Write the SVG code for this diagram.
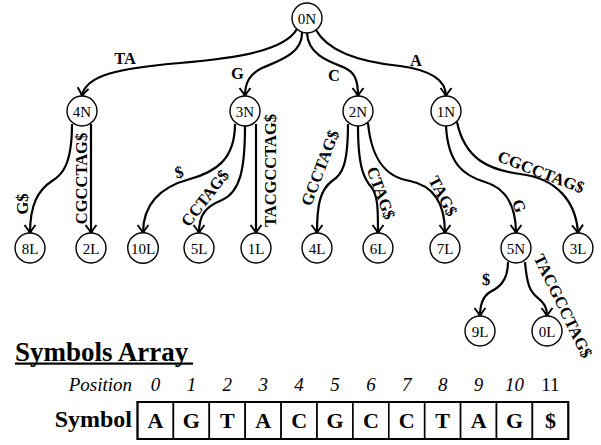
<svg xmlns="http://www.w3.org/2000/svg" width="601" height="445" viewBox="0 0 601 445">
<defs>
<marker id="ah" markerUnits="userSpaceOnUse" markerWidth="14" markerHeight="14" refX="0" refY="0" viewBox="-10 -7 12 14" orient="auto" overflow="visible">
<path d="M -8,-5.5 Q -3,-1.5 0,0 Q -3,1.5 -8,5.5" fill="none" stroke="#000" stroke-width="2"/>
</marker>
</defs>
<g id="connectors" fill="none" stroke="#000" stroke-width="2.2" marker-end="url(#ah)">
<path d="M 297,29 C 285,50 240,58 180,63 C 120,68 85,75 82,96"/>
<path d="M 302,32 C 303,55 275,62 262,68 C 250,74 245,82 245,96"/>
<path d="M 307,33 C 308,55 330,62 343,67 C 355,72 358,80 358,96"/>
<path d="M 316,30 C 330,55 370,63 400,66 C 430,70 446,80 446,96"/>
<path d="M 72,124 C 72,165 62,175 52,181 C 38,190 30,205 30,233"/>
<path d="M 91,124 L 91,233"/>
<path d="M 235,124 C 235,160 215,172 190,179 C 160,187 143,205 143,233"/>
<path d="M 245,126 C 245,170 240,192 222,200 C 205,207 199,215 199,233"/>
<path d="M 256,124 L 256,233"/>
<path d="M 348,124 C 348,165 342,175 332,181 C 320,190 317,205 317,233"/>
<path d="M 358,126 C 358,170 365,180 372,188 C 378,197 378,210 378,233"/>
<path d="M 368,123 C 372,165 390,178 410,181 C 435,186 445,205 445,233"/>
<path d="M 446,126 C 448,165 465,176 485,182 C 505,188 516,205 516,233"/>
<path d="M 457,122 C 465,160 490,170 520,174 C 555,178 576,200 578,233"/>
<path d="M 508,262 C 508,282 498,288 490,292 C 482,297 480,305 480,316"/>
<path d="M 525,262 C 527,285 530,292 538,298 C 545,304 547,308 547,316"/>
</g>
<g id="edge-labels" font-size="16.5" font-weight="bold" text-anchor="middle">
<text font-family="Liberation Serif" x="125" y="63.5">TA</text>
<text font-family="Liberation Serif" x="237.5" y="78.5">G</text>
<text font-family="Liberation Serif" x="334" y="80.5">C</text>
<text font-family="Liberation Serif" x="416" y="65.5">A</text>
<text font-family="Liberation Serif" transform="translate(22.5,204) rotate(-90)" y="5.5">G$</text>
<text font-family="Liberation Serif" transform="translate(81,178.5) rotate(-90)" y="5.5">CGCCTAG$</text>
<text font-family="Liberation Serif" transform="translate(179,172) rotate(-15)" y="5.5">$</text>
<text font-family="Liberation Serif" transform="translate(205,198) rotate(-52)" y="5.5">CCTAG$</text>
<text font-family="Liberation Serif" transform="translate(270.5,170.5) rotate(-90)" y="5.5">TACGCCTAG$</text>
<text font-family="Liberation Serif" transform="translate(320,168) rotate(-69)" y="5.5">GCCTAG$</text>
<text font-family="Liberation Serif" transform="translate(381,193) rotate(70)" y="5.5">CTAG$</text>
<text font-family="Liberation Serif" transform="translate(443,196) rotate(62)" y="5.5">TAG$</text>
<text font-family="Liberation Serif" transform="translate(519,206) rotate(70)" y="5.5">G</text>
<text font-family="Liberation Serif" transform="translate(541,172) rotate(21)" y="5.5">CGCCTAG$</text>
<text font-family="Liberation Serif" transform="translate(486,279)" y="5.5">$</text>
<text font-family="Liberation Serif" transform="translate(563,306) rotate(64)" y="5.5">TACGCCTAG$</text>
</g>
<g id="nodes" fill="#fff" stroke="#000" stroke-width="1.4" font-size="15" text-anchor="middle">
<g id="n0N"><circle cx="307" cy="18" r="15"/><text font-family="Liberation Serif" x="307" y="23.5" fill="#000" stroke="none">0N</text></g>
<g id="n4N"><circle cx="82" cy="111" r="15"/><text font-family="Liberation Serif" x="82" y="116.5" fill="#000" stroke="none">4N</text></g>
<g id="n3N"><circle cx="245" cy="111" r="15"/><text font-family="Liberation Serif" x="245" y="116.5" fill="#000" stroke="none">3N</text></g>
<g id="n2N"><circle cx="358" cy="111" r="15"/><text font-family="Liberation Serif" x="358" y="116.5" fill="#000" stroke="none">2N</text></g>
<g id="n1N"><circle cx="446" cy="111" r="15"/><text font-family="Liberation Serif" x="446" y="116.5" fill="#000" stroke="none">1N</text></g>
<g id="n8L"><circle cx="30" cy="248" r="15"/><text font-family="Liberation Serif" x="30" y="253.5" fill="#000" stroke="none">8L</text></g>
<g id="n2L"><circle cx="91" cy="248" r="15"/><text font-family="Liberation Serif" x="91" y="253.5" fill="#000" stroke="none">2L</text></g>
<g id="n10L"><circle cx="143" cy="248" r="15.3"/><text font-family="Liberation Serif" x="143" y="253.5" fill="#000" stroke="none">10L</text></g>
<g id="n5L"><circle cx="199" cy="248" r="15"/><text font-family="Liberation Serif" x="199" y="253.5" fill="#000" stroke="none">5L</text></g>
<g id="n1L"><circle cx="256" cy="248" r="15"/><text font-family="Liberation Serif" x="256" y="253.5" fill="#000" stroke="none">1L</text></g>
<g id="n4L"><circle cx="317" cy="248" r="15"/><text font-family="Liberation Serif" x="317" y="253.5" fill="#000" stroke="none">4L</text></g>
<g id="n6L"><circle cx="378" cy="248" r="15"/><text font-family="Liberation Serif" x="378" y="253.5" fill="#000" stroke="none">6L</text></g>
<g id="n7L"><circle cx="445" cy="248" r="15"/><text font-family="Liberation Serif" x="445" y="253.5" fill="#000" stroke="none">7L</text></g>
<g id="n5N"><circle cx="516" cy="248" r="15"/><text font-family="Liberation Serif" x="516" y="253.5" fill="#000" stroke="none">5N</text></g>
<g id="n3L"><circle cx="578" cy="248" r="15"/><text font-family="Liberation Serif" x="578" y="253.5" fill="#000" stroke="none">3L</text></g>
<g id="n9L"><circle cx="480" cy="331" r="15"/><text font-family="Liberation Serif" x="480" y="336.5" fill="#000" stroke="none">9L</text></g>
<g id="n0L"><circle cx="547" cy="331" r="15"/><text font-family="Liberation Serif" x="547" y="336.5" fill="#000" stroke="none">0L</text></g>
</g>
<g id="symbols-array">
<text font-family="Liberation Serif" x="15" y="361" font-size="27" font-weight="bold">Symbols Array</text>
<rect x="15" y="362.5" width="178" height="2.2" fill="#000"/>
<text font-family="Liberation Serif" x="132" y="391" font-size="19" font-style="italic" text-anchor="end">Position</text>
<g font-size="19" font-style="italic" text-anchor="middle">
<text font-family="Liberation Serif" x="155.5" y="391">0</text><text font-family="Liberation Serif" x="191.4" y="391">1</text><text font-family="Liberation Serif" x="227.3" y="391">2</text><text font-family="Liberation Serif" x="263.2" y="391">3</text>
<text font-family="Liberation Serif" x="299.1" y="391">4</text><text font-family="Liberation Serif" x="335" y="391">5</text><text font-family="Liberation Serif" x="370.9" y="391">6</text><text font-family="Liberation Serif" x="406.8" y="391">7</text>
<text font-family="Liberation Serif" x="442.7" y="391">8</text><text font-family="Liberation Serif" x="478.6" y="391">9</text><text font-family="Liberation Serif" x="514.5" y="391">10</text><text font-family="Liberation Serif" x="550.4" y="391" font-style="normal">11</text>
</g>
<text font-family="Liberation Serif" x="132" y="427" font-size="24" font-weight="bold" text-anchor="end">Symbol</text>
<g fill="#fff" stroke="#000" stroke-width="1.6">
<rect x="137.5" y="402" width="35.9" height="37"/><rect x="173.4" y="402" width="35.9" height="37"/><rect x="209.3" y="402" width="35.9" height="37"/><rect x="245.2" y="402" width="35.9" height="37"/>
<rect x="281.1" y="402" width="35.9" height="37"/><rect x="317" y="402" width="35.9" height="37"/><rect x="352.9" y="402" width="35.9" height="37"/><rect x="388.8" y="402" width="35.9" height="37"/>
<rect x="424.7" y="402" width="35.9" height="37"/><rect x="460.6" y="402" width="35.9" height="37"/><rect x="496.5" y="402" width="35.9" height="37"/><rect x="532.4" y="402" width="35.9" height="37"/>
</g>
<g font-size="22" font-weight="bold" text-anchor="middle">
<text font-family="Liberation Serif" x="155.5" y="428">A</text><text font-family="Liberation Serif" x="191.4" y="428">G</text><text font-family="Liberation Serif" x="227.3" y="428">T</text><text font-family="Liberation Serif" x="263.2" y="428">A</text>
<text font-family="Liberation Serif" x="299.1" y="428">C</text><text font-family="Liberation Serif" x="335" y="428">G</text><text font-family="Liberation Serif" x="370.9" y="428">C</text><text font-family="Liberation Serif" x="406.8" y="428">C</text>
<text font-family="Liberation Serif" x="442.7" y="428">T</text><text font-family="Liberation Serif" x="478.6" y="428">A</text><text font-family="Liberation Serif" x="514.5" y="428">G</text><text font-family="Liberation Serif" x="550.4" y="428">$</text>
</g>
<rect x="137.5" y="402" width="430.8" height="37" fill="none" stroke="#000" stroke-width="2"/>
</g>
</svg>
